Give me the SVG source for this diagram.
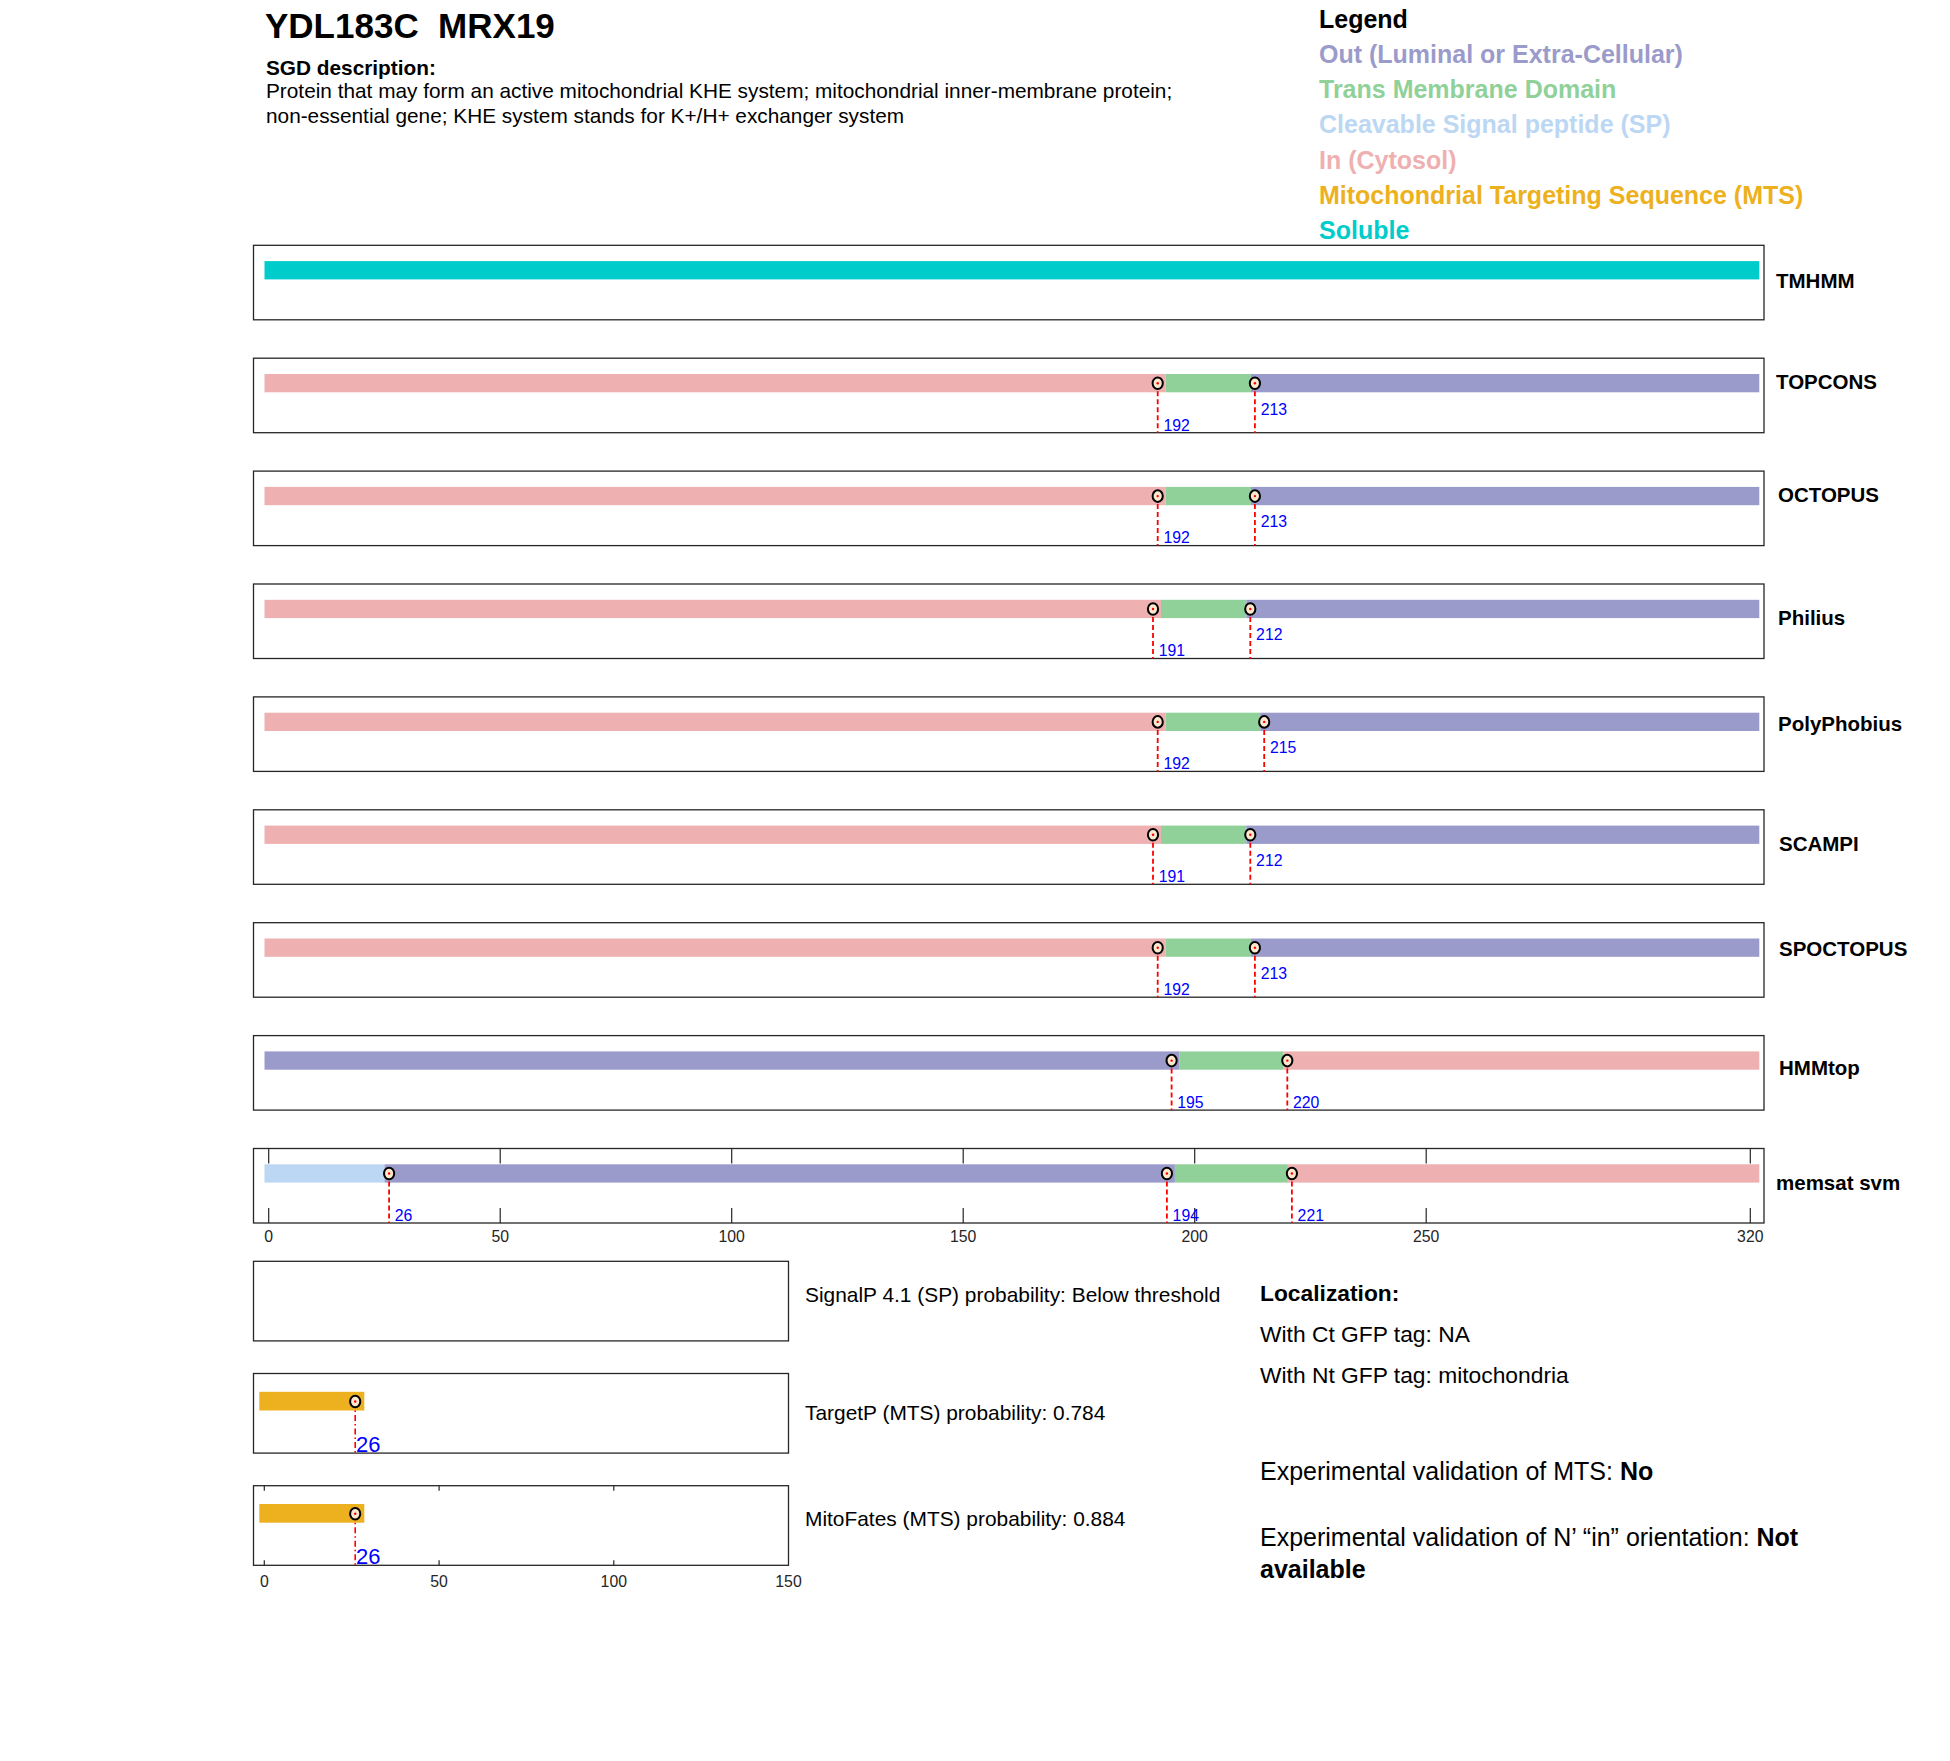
<svg xmlns="http://www.w3.org/2000/svg" width="1950" height="1761" viewBox="0 0 1950 1761">
<style>
text{font-family:"Liberation Sans",Arial,Helvetica,sans-serif}
.box{fill:none;stroke:#262626;stroke-width:1.3}
.in{fill:#eeb0b0}.tm{fill:#90d19a}.out{fill:#9b9bcb}.sp{fill:#bcd7f3}.sol{fill:#00cccc}.mts{fill:#edb120}
.mk{fill:#fce8cf;stroke:#000;stroke-width:2}
.dot{fill:#ff0000}
.dl{stroke:#ff0000;stroke-width:1.8;stroke-dasharray:5 3;fill:none}
.dd{stroke:#ff0000;stroke-width:1.6;stroke-dasharray:6 3 1.5 3;fill:none}
.num{fill:#0000ff;font-size:15.8px}
.num2{fill:#0000ff;font-size:22px}
.lbl{font-size:20.5px;font-weight:bold;fill:#000}
.tick{stroke:#262626;stroke-width:1.2}
.ax{font-size:15.8px;fill:#262626;text-anchor:middle}
.leg{font-size:25px;font-weight:bold}
.prob{font-size:20.9px;fill:#000}
.loc{font-size:22.8px;fill:#000}
.exp{font-size:25px;fill:#000}
.desc{font-size:20.8px;fill:#000}
</style>
<defs>
<g id="marker"><ellipse class="mk" cx="0" cy="0" rx="5.1" ry="5.8"/><circle class="dot" cx="0" cy="0" r="1.2"/></g>
</defs>

<g id="header">
<text x="265" y="38" xml:space="preserve" style="font-size:35px;font-weight:bold;white-space:pre">YDL183C  MRX19</text>
<text class="desc" x="266" y="75" font-weight="bold">SGD description:</text>
<text class="desc" x="266" y="98.3">Protein that may form an active mitochondrial KHE system; mitochondrial inner-membrane protein;</text>
<text class="desc" x="266" y="123.3">non-essential gene; KHE system stands for K+/H+ exchanger system</text>
</g>

<g id="legend">
<text class="leg" x="1319" y="27.5" fill="#000">Legend</text>
<text class="leg" x="1319" y="63" fill="#9b9bcb">Out (Luminal or Extra-Cellular)</text>
<text class="leg" x="1319" y="98" fill="#90d19a">Trans Membrane Domain</text>
<text class="leg" x="1319" y="133" fill="#bcd7f3">Cleavable Signal peptide (SP)</text>
<text class="leg" x="1319" y="168.5" fill="#eeb0b0">In (Cytosol)</text>
<text class="leg" x="1319" y="203.5" fill="#edb120">Mitochondrial Targeting Sequence (MTS)</text>
<text class="leg" x="1319" y="238.5" fill="#00cccc">Soluble</text>
</g>

<g id="track-TMHMM">
<rect class="box" x="253.5" y="245.3" width="1510.5" height="74.5"/>
<rect class="sol" x="264.5" y="261.1" width="1494.8" height="18.3"/>
<text class="lbl" x="1776" y="288">TMHMM</text>
</g>

<g id="track-TOPCONS">
<rect class="box" x="253.5" y="358.2" width="1510.5" height="74.5"/>
<rect class="in" x="264.5" y="374" width="901.2" height="18.3"/>
<rect class="tm" x="1165.7" y="374" width="85.2" height="18.3"/>
<rect class="out" x="1250.9" y="374" width="508.4" height="18.3"/>
<path class="dl" d="M1157.7 383.2V432.7M1254.9 383.2V432.7"/>
<use href="#marker" x="1157.7" y="383.2"/><use href="#marker" x="1254.9" y="383.2"/>
<text class="num" x="1163.5" y="430.5">192</text>
<text class="num" x="1260.7" y="414.5">213</text>
<text class="lbl" x="1776" y="389">TOPCONS</text>
</g>

<g id="track-OCTOPUS">
<rect class="box" x="253.5" y="471.1" width="1510.5" height="74.5"/>
<rect class="in" x="264.5" y="486.9" width="901.2" height="18.3"/>
<rect class="tm" x="1165.7" y="486.9" width="85.2" height="18.3"/>
<rect class="out" x="1250.9" y="486.9" width="508.4" height="18.3"/>
<path class="dl" d="M1157.7 496.1V545.6M1254.9 496.1V545.6"/>
<use href="#marker" x="1157.7" y="496.1"/><use href="#marker" x="1254.9" y="496.1"/>
<text class="num" x="1163.5" y="543.4">192</text>
<text class="num" x="1260.7" y="527.4">213</text>
<text class="lbl" x="1778" y="502">OCTOPUS</text>
</g>

<g id="track-Philius">
<rect class="box" x="253.5" y="584" width="1510.5" height="74.5"/>
<rect class="in" x="264.5" y="599.8" width="896.5" height="18.3"/>
<rect class="tm" x="1161" y="599.8" width="85.3" height="18.3"/>
<rect class="out" x="1246.3" y="599.8" width="513" height="18.3"/>
<path class="dl" d="M1153 609V658.5M1250.3 609V658.5"/>
<use href="#marker" x="1153" y="609"/><use href="#marker" x="1250.3" y="609"/>
<text class="num" x="1158.8" y="656.3">191</text>
<text class="num" x="1256.1" y="640.3">212</text>
<text class="lbl" x="1778" y="625">Philius</text>
</g>

<g id="track-PolyPhobius">
<rect class="box" x="253.5" y="696.9" width="1510.5" height="74.5"/>
<rect class="in" x="264.5" y="712.7" width="901.2" height="18.3"/>
<rect class="tm" x="1165.7" y="712.7" width="94.5" height="18.3"/>
<rect class="out" x="1260.2" y="712.7" width="499.1" height="18.3"/>
<path class="dl" d="M1157.7 721.9V771.4M1264.2 721.9V771.4"/>
<use href="#marker" x="1157.7" y="721.9"/><use href="#marker" x="1264.2" y="721.9"/>
<text class="num" x="1163.5" y="769.2">192</text>
<text class="num" x="1270" y="753.2">215</text>
<text class="lbl" x="1778" y="731">PolyPhobius</text>
</g>

<g id="track-SCAMPI">
<rect class="box" x="253.5" y="809.8" width="1510.5" height="74.5"/>
<rect class="in" x="264.5" y="825.6" width="896.5" height="18.3"/>
<rect class="tm" x="1161" y="825.6" width="85.3" height="18.3"/>
<rect class="out" x="1246.3" y="825.6" width="513" height="18.3"/>
<path class="dl" d="M1153 834.8V884.3M1250.3 834.8V884.3"/>
<use href="#marker" x="1153" y="834.8"/><use href="#marker" x="1250.3" y="834.8"/>
<text class="num" x="1158.8" y="882.1">191</text>
<text class="num" x="1256.1" y="866.1">212</text>
<text class="lbl" x="1779" y="851">SCAMPI</text>
</g>

<g id="track-SPOCTOPUS">
<rect class="box" x="253.5" y="922.7" width="1510.5" height="74.5"/>
<rect class="in" x="264.5" y="938.5" width="901.2" height="18.3"/>
<rect class="tm" x="1165.7" y="938.5" width="85.2" height="18.3"/>
<rect class="out" x="1250.9" y="938.5" width="508.4" height="18.3"/>
<path class="dl" d="M1157.7 947.7V997.2M1254.9 947.7V997.2"/>
<use href="#marker" x="1157.7" y="947.7"/><use href="#marker" x="1254.9" y="947.7"/>
<text class="num" x="1163.5" y="995">192</text>
<text class="num" x="1260.7" y="979">213</text>
<text class="lbl" x="1779" y="956">SPOCTOPUS</text>
</g>

<g id="track-HMMtop">
<rect class="box" x="253.5" y="1035.6" width="1510.5" height="74.5"/>
<rect class="out" x="264.5" y="1051.4" width="915.1" height="18.3"/>
<rect class="tm" x="1179.6" y="1051.4" width="103.7" height="18.3"/>
<rect class="in" x="1283.3" y="1051.4" width="476" height="18.3"/>
<path class="dl" d="M1171.6 1060.6V1110.1M1287.3 1060.6V1110.1"/>
<use href="#marker" x="1171.6" y="1060.6"/><use href="#marker" x="1287.3" y="1060.6"/>
<text class="num" x="1177.3" y="1107.5">195</text>
<text class="num" x="1293" y="1107.5">220</text>
<text class="lbl" x="1779" y="1075">HMMtop</text>
</g>

<g id="track-memsat">
<rect class="box" x="253.5" y="1148.5" width="1510.5" height="74.5"/>
<g class="tick">
<path d="M268.7 1148.5v15M500.2 1148.5v15M731.7 1148.5v15M963.2 1148.5v15M1194.7 1148.5v15M1426.2 1148.5v15M1750.3 1148.5v15"/>
<path d="M268.7 1223v-15M500.2 1223v-15M731.7 1223v-15M963.2 1223v-15M1194.7 1223v-15M1426.2 1223v-15M1750.3 1223v-15"/>
</g>
<rect class="sp" x="264.5" y="1164.3" width="120" height="18.3"/>
<rect class="out" x="384.5" y="1164.3" width="790.4" height="18.3"/>
<rect class="tm" x="1174.9" y="1164.3" width="113" height="18.3"/>
<rect class="in" x="1287.9" y="1164.3" width="471.4" height="18.3"/>
<path class="dl" d="M389.1 1173.5V1223M1166.9 1173.5V1223M1291.9 1173.5V1223"/>
<use href="#marker" x="389.1" y="1173.5"/><use href="#marker" x="1166.9" y="1173.5"/><use href="#marker" x="1291.9" y="1173.5"/>
<text class="num" x="394.8" y="1220.5">26</text>
<text class="num" x="1172.6" y="1220.5">194</text>
<text class="num" x="1297.6" y="1220.5">221</text>
<text class="lbl" x="1776" y="1190">memsat svm</text>
<g class="ax">
<text x="268.7" y="1242">0</text><text x="500.2" y="1242">50</text><text x="731.7" y="1242">100</text><text x="963.2" y="1242">150</text><text x="1194.7" y="1242">200</text><text x="1426.2" y="1242">250</text><text x="1750.3" y="1242">320</text>
</g>
</g>

<g id="track-SignalP">
<rect class="box" x="253.5" y="1261.3" width="535" height="79.6"/>
<text class="prob" x="805" y="1302">SignalP 4.1 (SP) probability: Below threshold</text>
</g>

<g id="track-TargetP">
<rect class="box" x="253.5" y="1373.5" width="535" height="79.6"/>
<rect class="mts" x="259.3" y="1391.8" width="105" height="18.7"/>
<path class="dd" d="M355.2 1401.5V1453.1"/>
<use href="#marker" x="355.2" y="1401.5"/>
<text class="num2" x="356" y="1451.8">26</text>
<text class="prob" x="805" y="1420">TargetP (MTS) probability: 0.784</text>
</g>

<g id="track-MitoFates">
<rect class="box" x="253.5" y="1485.7" width="535" height="79.6"/>
<path class="tick" d="M264.3 1485.7v5M439.1 1485.7v5M613.8 1485.7v5M264.3 1565.3v-5M439.1 1565.3v-5M613.8 1565.3v-5"/>
<rect class="mts" x="259.3" y="1504" width="105" height="18.7"/>
<path class="dd" d="M355.2 1513.7V1565.3"/>
<use href="#marker" x="355.2" y="1513.7"/>
<text class="num2" x="356" y="1564">26</text>
<text class="prob" x="805" y="1526">MitoFates (MTS) probability: 0.884</text>
<g class="ax">
<text x="264.3" y="1587">0</text><text x="439.1" y="1587">50</text><text x="613.8" y="1587">100</text><text x="788.5" y="1587">150</text>
</g>
</g>

<g id="info">
<text x="1260" y="1301" style="font-size:22.8px;font-weight:bold">Localization:</text>
<text class="loc" x="1260" y="1342">With Ct GFP tag: NA</text>
<text class="loc" x="1260" y="1383">With Nt GFP tag: mitochondria</text>
<text class="exp" x="1260" y="1480">Experimental validation of MTS: <tspan font-weight="bold">No</tspan></text>
<text class="exp" x="1260" y="1546">Experimental validation of N’ “in” orientation: <tspan font-weight="bold">Not</tspan></text>
<text class="exp" x="1260" y="1578" font-weight="bold">available</text>
</g>
</svg>
